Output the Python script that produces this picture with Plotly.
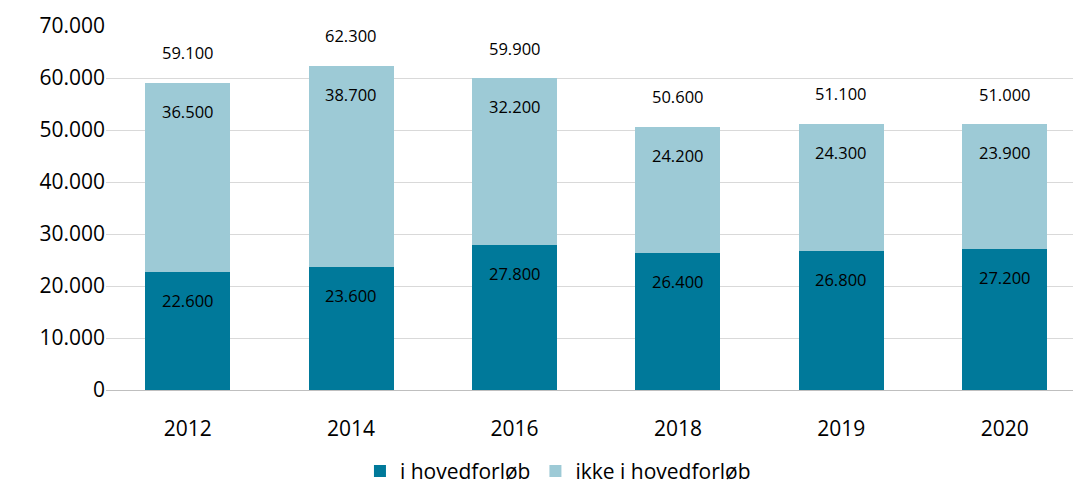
import plotly.graph_objects as go

years = ["2012", "2014", "2016", "2018", "2019", "2020"]
i_hoved = [22600, 23600, 27800, 26400, 26800, 27200]
ikke_hoved = [36500, 38700, 32200, 24200, 24300, 23900]
totals = [59100, 62300, 59900, 50600, 51100, 51000]

dark = "#00799A"
light = "#9DCAD6"
font_family = "Open Sans, Noto Sans, sans-serif"

def fmt(v):
    return f"{v:,}".replace(",", ".")

fig = go.Figure()
fig.add_trace(go.Bar(x=years, y=i_hoved, name="i hovedforløb", marker_color=dark,
                     width=0.52, marker_line_width=0))
fig.add_trace(go.Bar(x=years, y=ikke_hoved, name="ikke i hovedforløb", marker_color=light,
                     width=0.52, marker_line_width=0))

ann = []
lab_font = dict(size=16.5, color="#000000")
for i, y in enumerate(years):
    ann.append(dict(x=i, y=i_hoved[i], xref="x", yref="y", text=fmt(i_hoved[i]), showarrow=False,
                    yanchor="top", yshift=-15, font=lab_font))
    ann.append(dict(x=i, y=i_hoved[i] + ikke_hoved[i], xref="x", yref="y", text=fmt(ikke_hoved[i]),
                    showarrow=False, yanchor="top", yshift=-15, font=lab_font))
    ann.append(dict(x=i, y=totals[i], xref="x", yref="y", text=fmt(totals[i]), showarrow=False,
                    yanchor="bottom", yshift=17, font=lab_font))

fig.update_layout(
    barmode="stack",
    width=1073, height=491,
    margin=dict(l=106, r=0, t=26, b=101),
    paper_bgcolor="white", plot_bgcolor="white",
    font=dict(family=font_family, size=21, color="#000000"),
    separators=",.",
    annotations=ann,
    showlegend=True,
    legend=dict(orientation="h", x=0.52, xanchor="center", xref="container",
                y=0.04, yanchor="middle", yref="container",
                font=dict(size=21), itemwidth=30, traceorder="normal"),
    xaxis=dict(type="category", range=[-0.5, 5.418], showline=True, linecolor="#BFBFBF",
               linewidth=1, ticks="", tickfont=dict(size=21), showgrid=False,
               ticklabelstandoff=20, automargin=False),
    yaxis=dict(range=[0, 70000], dtick=10000, tickformat=",.0f", showgrid=True,
               gridcolor="#D9D9D9", gridwidth=1, zeroline=False, ticks="",
               tickfont=dict(size=21), showline=False, automargin=False),
)

fig.write_html("out.html", config={"displayModeBar": False},
               post_script="document.body.style.margin='0';document.body.style.overflow='hidden';")
